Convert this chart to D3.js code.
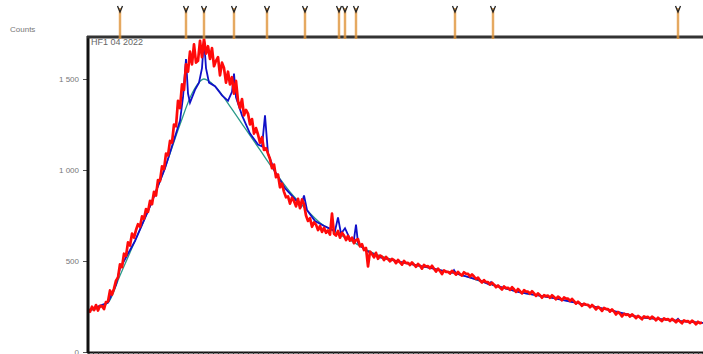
<!DOCTYPE html>
<html>
<head>
<meta charset="utf-8">
<script src="https://cdn.jsdelivr.net/npm/d3@7"></script>
<style>
  html, body { margin: 0; padding: 0; background: #fff; }
  svg { display: block; }
  text { font-family: "Liberation Sans", "DejaVu Sans", sans-serif; }
</style>
</head>
<body>
<svg id="chart" width="703" height="354"></svg>
<script>
// observed counts, one value every 2 channels starting at channel 0
const obsStep = 2;
const observed = [
  236, 221, 249, 230, 258, 228, 254, 252, 236, 275,
  278, 338, 315, 348, 392, 410, 482, 466, 540, 528,
  602, 585, 650, 628, 670, 702, 688, 745, 732, 785,
  770, 830, 812, 880, 860, 945, 940, 1020, 1005, 1090,
  1080, 1160, 1150, 1250, 1240, 1380, 1340, 1470, 1440, 1580,
  1540, 1650, 1580, 1690, 1590, 1600, 1710, 1620, 1720, 1640,
  1680, 1610, 1670, 1570, 1600, 1620, 1520, 1590, 1560, 1480,
  1540, 1470, 1510, 1420, 1490, 1380, 1340, 1390, 1300, 1330,
  1310, 1250, 1280, 1200, 1230, 1195, 1150, 1180, 1110, 1120,
  1090, 1060, 1010, 1030, 960, 975, 905, 925, 880, 850,
  855, 815, 848, 830, 800, 842, 790, 838, 812, 750,
  720, 735, 688, 712, 700, 670, 692, 660, 682, 655,
  668, 645, 760, 650, 640, 665, 628, 655, 640, 615,
  638, 612, 628, 598, 615, 620, 580, 592, 560, 572,
  470, 552, 538, 520, 545, 512, 530, 524, 505, 522,
  510, 498, 512, 505, 488, 506, 492, 480, 500, 488,
  490, 478, 492, 480, 468, 484, 474, 458, 478, 470,
  472, 460, 474, 458, 442, 458, 445, 428, 448, 440,
  441, 431, 446, 437, 425, 440, 428, 420, 438, 430,
  429, 415, 426, 415, 401, 409, 393, 382, 395, 384,
  384, 370, 381, 370, 356, 366, 354, 343, 360, 351,
  353, 341, 356, 345, 330, 346, 334, 322, 340, 332,
  332, 320, 334, 322, 308, 322, 312, 298, 312, 306,
  310, 298, 312, 302, 290, 304, 296, 284, 300, 293,
  294, 280, 292, 280, 266, 276, 266, 254, 266, 260,
  259, 246, 258, 248, 234, 248, 240, 226, 242, 236,
  236, 222, 234, 222, 206, 220, 210, 196, 210, 204,
  207, 195, 207, 198, 186, 198, 190, 180, 196, 190,
  193, 182, 194, 186, 174, 188, 178, 170, 185, 178,
  181, 170, 182, 174, 163, 176, 168, 158, 174, 168,
  170, 160, 172, 164, 152, 166, 158, 162
];

// calculated pattern (channel, counts)
const calcX = [0, 20, 28, 32, 36, 47, 62, 77, 88, 92, 95, 98, 100, 102, 107, 111, 114, 116, 118, 121,
  127, 134, 140, 144, 146, 148, 154, 162, 170, 174, 177, 180, 187, 197, 207, 213, 216, 219, 227, 237,
  247, 250, 253, 257, 262, 266, 268, 270, 277, 292, 312, 342, 364, 366, 368, 392, 401, 403, 405, 432,
  462, 492, 522, 552, 582, 588, 590, 592, 615];
const calcY = [228, 272, 370, 460, 500, 610, 800, 1010, 1200, 1270, 1400, 1610, 1420, 1370, 1440, 1480, 1560, 1720, 1560, 1480,
  1460, 1410, 1380, 1430, 1530, 1400, 1300, 1200, 1140, 1130, 1300, 1090, 990, 900, 840, 800, 860, 780, 720, 690,
  665, 740, 650, 680, 620, 620, 700, 600, 560, 520, 495, 462, 435, 450, 431, 394, 372, 384, 369, 328,
  300, 266, 230, 190, 176, 172, 182, 170, 160];

// background
const bgX = [0, 20, 32, 47, 62, 77, 92, 104, 116, 127, 142, 157, 172, 187, 202, 217, 232, 247, 262, 282,
  312, 342, 372, 402, 432, 462, 492, 522, 552, 582, 615];
const bgY = [225, 270, 420, 610, 800, 1010, 1250, 1420, 1500, 1460, 1350, 1230, 1110, 990, 880, 790, 710, 660, 615, 552,
  495, 462, 425, 372, 328, 300, 266, 230, 190, 176, 160];

// reflection positions (channel)
const reflections = [32, 98, 116, 146, 179, 217, 251, 257, 268, 367, 405, 590];

const yTicks = [0, 500, 1000, 1500];
const yTickLabels = ["0", "500", "1 000", "1 500"];
const sampleLabel = "HF1 04 2022";
const yTitle = "Counts";

const svg = d3.select("#chart");
const m = { left: 88, right: 703, top: 37, bottom: 352 };

const x = d3.scaleLinear().domain([0, 615]).range([m.left, m.right]);
const y = d3.scaleLinear().domain([0, 1500]).range([m.bottom, 79]);

// x ticks along the bottom
const xAxis = d3.axisBottom(x).tickValues(d3.range(0, 616, 5)).tickSize(3).tickFormat("");
svg.append("g").attr("transform", "translate(0," + m.bottom + ")").call(xAxis)
  .call(g => g.select(".domain").attr("stroke", "#111").attr("stroke-width", 2))
  .call(g => g.selectAll(".tick line").attr("stroke", "#333"));

// curves
svg.append("clipPath").attr("id", "plotclip")
  .append("rect").attr("x", m.left).attr("y", m.top).attr("width", m.right - m.left).attr("height", m.bottom - m.top);
const plot = svg.append("g").attr("clip-path", "url(#plotclip)");

const line = d3.line().x(d => x(d[0])).y(d => y(d[1]));

plot.append("path")
  .datum(bgX.map((v, i) => [v, bgY[i]]))
  .attr("fill", "none").attr("stroke", "#2a9a8a").attr("stroke-width", 1.3)
  .attr("d", line.curve(d3.curveMonotoneX));

plot.append("path")
  .datum(calcX.map((v, i) => [v, calcY[i]]))
  .attr("fill", "none").attr("stroke", "#1010c8").attr("stroke-width", 1.8)
  .attr("d", line.curve(d3.curveLinear));

plot.append("path")
  .datum(observed.map((v, i) => [i * obsStep, v]))
  .attr("fill", "none").attr("stroke", "#ff0a0a").attr("stroke-width", 2.7)
  .attr("stroke-linejoin", "round")
  .attr("d", line.curve(d3.curveLinear));

// y axis
const yAxis = d3.axisLeft(y).tickValues(yTicks).tickSize(5).tickPadding(4)
  .tickFormat((d, i) => yTickLabels[i]);
svg.append("g").attr("transform", "translate(" + m.left + ",0)").call(yAxis)
  .call(g => g.select(".domain").remove())
  .call(g => g.selectAll(".tick line").attr("stroke", "#555"))
  .call(g => g.selectAll(".tick text").attr("fill", "#777").attr("font-size", 8));

svg.append("line").attr("x1", m.left).attr("x2", m.left).attr("y1", m.top - 1).attr("y2", m.bottom + 1)
  .attr("stroke", "#111").attr("stroke-width", 3);
svg.append("line").attr("x1", m.left - 1).attr("x2", m.right).attr("y1", m.top).attr("y2", m.top)
  .attr("stroke", "#333").attr("stroke-width", 3);

// reflection markers
const mk = svg.append("g");
mk.selectAll("line.m").data(reflections).join("line").attr("class", "m")
  .attr("x1", d => x(d)).attr("x2", d => x(d)).attr("y1", 8).attr("y2", m.top + 2)
  .attr("stroke", "#f2b26a").attr("stroke-width", 3).attr("opacity", 0.5);
mk.selectAll("line.c").data(reflections).join("line").attr("class", "c")
  .attr("x1", d => x(d)).attr("x2", d => x(d)).attr("y1", 8).attr("y2", m.top + 2)
  .attr("stroke", "#d98a2a").attr("stroke-width", 1.2);
mk.selectAll("path").data(reflections).join("path")
  .attr("d", d => "M" + (x(d) - 2.5) + ",6L" + x(d) + ",12L" + (x(d) + 2.5) + ",6")
  .attr("fill", "none").attr("stroke", "#222").attr("stroke-width", 1.3);

// labels
svg.append("text").attr("x", 10).attr("y", 32).attr("font-size", 8).attr("fill", "#777").text(yTitle);
svg.append("text").attr("x", 91).attr("y", 45).attr("font-size", 9).attr("fill", "#666").text(sampleLabel);
</script>
</body>
</html>
